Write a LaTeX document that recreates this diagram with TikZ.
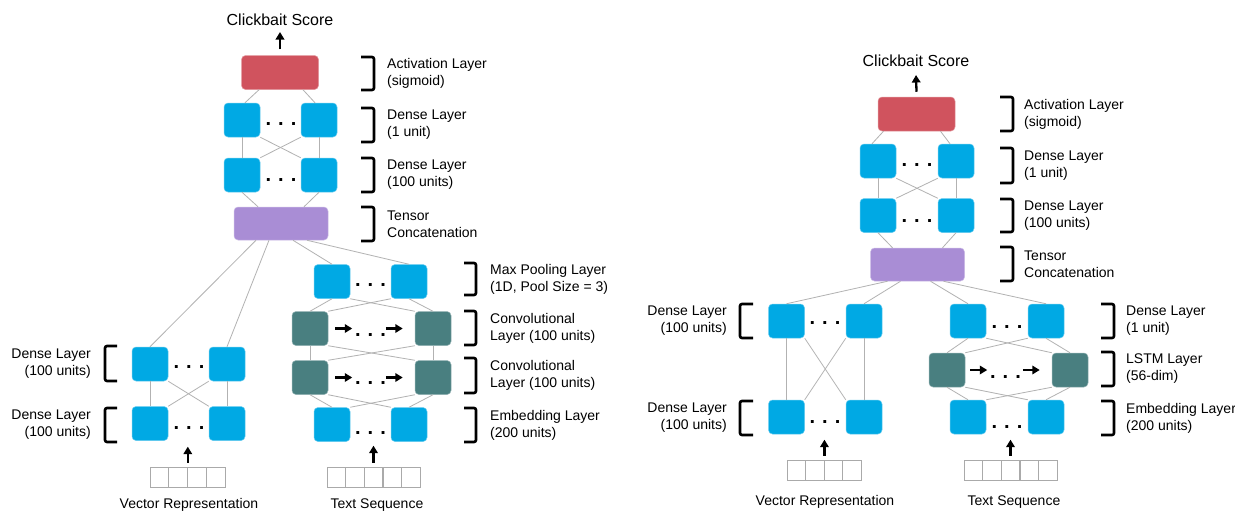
\documentclass[tikz,border=0pt]{standalone}
\usepackage{fontspec}
\setmainfont{Liberation Sans}
\usetikzlibrary{%
  arrows.meta,%
  calc% wg. ($(a)+(b)$)
}

\definecolor{unitblue}{RGB}{0,169,228}
\definecolor{unitteal}{RGB}{73,127,128}
\definecolor{actred}{RGB}{208,83,94}
\definecolor{catpurple}{RGB}{169,141,213}
\definecolor{linkgray}{RGB}{178,178,178}
\definecolor{cellgray}{RGB}{170,170,170}

\newcommand{\labelsize}{\fontsize{14}{17}\selectfont}
\newcommand{\titlesize}{\fontsize{16}{19}\selectfont}
\newcommand{\gapsize}{\fontsize{20}{20}\selectfont\bfseries}
\newcommand{\gapdots}{.\hspace{7pt}.\hspace{7pt}.}

\begin{document}
\begin{tikzpicture}[x=1pt, y=-1pt,
    unit/.style={rectangle, rounded corners=4pt, minimum width=36pt, minimum height=34pt,
      inner sep=0pt, fill=unitblue, draw=unitblue!60!white, line width=0.5pt},
    rnn/.style={unit, fill=unitteal, draw=unitteal!60!white},
    actbox/.style={unit, minimum width=77pt, fill=actred, draw=actred!60!white},
    catbox/.style={unit, minimum width=94pt, minimum height=33pt, fill=catpurple, draw=catpurple!60!white},
    cell/.style={rectangle, minimum width=18.7pt, minimum height=20pt, inner sep=0pt, draw=cellgray, line width=0.7pt},
    link/.style={draw=linkgray, line width=0.8pt},
    tip/.style={-{Triangle[length=7.5pt,width=8.5pt]}, line width=2.3pt},
    brace/.style={line width=2.6pt, rounded corners=2pt},
    layer/.style={font=\labelsize, align=left, anchor=west, inner sep=0pt},
    layerl/.style={font=\labelsize, align=right, anchor=east, inner sep=0pt},
    gap/.style={font=\gapsize, inner sep=0pt},
    title/.style={font=\titlesize, inner sep=0pt, anchor=base},
    caption/.style={font=\labelsize, inner sep=0pt, anchor=base}
  ]
  \useasboundingbox (0,0) rectangle (1235,512);
  \fill[white] (0,0) rectangle (1235,512);

  %%% left model: convolutional text branch
  % draw layers
  \node[title] at (280,25) (sc1) {Clickbait Score};
  \node[actbox] at (280,72.5) (act1) {};
  \node[catbox] at (281,223.5) (cat1) {};
  \foreach \n/\xl/\xr/\y in {den1/242/319/120, den2/242/319/175, vec1/150/227/364,
      vec2/150/227/423.5, pool1/332/409/281.5, emb1/332/409/424.5}{
    \node[unit] at (\xl,\y) (\n l) {};
    \node[unit] at (\xr,\y) (\n r) {};}
  \foreach \n/\y in {conv1/328.5, conv2/377.5}{
    \node[rnn] at (310,\y) (\n l) {};
    \node[rnn] at (433,\y) (\n r) {};}
  \foreach \x/\y [count=\i] in {281/124, 281/180, 189/367, 189/428,
      370.5/285, 370.5/335, 370.5/383, 370.5/433}{
    \node[gap] at (\x,\y) (gap1\i) {\gapdots};}

  % draw inputs
  \foreach \i in {1,...,4}{
    \node[cell] at ({140.6+18.75*\i},477) (vin1\i) {};}
  \foreach \i in {1,...,5}{
    \node[cell] at ({317.7+18.6*\i},477) (tin1\i) {};}
  \node[caption] at (189,508.5) (cap1v) {Vector Representation};
  \node[caption] at (377,508.5) (cap1t) {Text Sequence};

  % draw connections
  \draw[link] ($(act1.south)+(-21,0)$) -- ($(den1l.north)+(3,0)$);
  \draw[link] ($(act1.south)+(23,0)$) -- ($(den1r.north)+(-4,0)$);
  \draw[link] (den2l.south) -- ($(cat1.north)+(-23,0)$);
  \draw[link] (den2r.south) -- ($(cat1.north)+(23,0)$);
  \foreach \dx/\b in {-25/vec1l, -12/vec1r, 12/pool1l, 26/pool1r}{
    \draw[link] ($(cat1.south)+(\dx,0)$) -- (\b.north);}
  \foreach \a/\b in {den1/den2, vec1/vec2, pool1/conv1, conv1/conv2, conv2/emb1}{
    \draw[link] (\a l.south) -- (\b l.north);
    \draw[link] (\a r.south) -- (\b r.north);
    \draw[link] (\a l.south east) -- (\b r.north west);
    \draw[link] (\a r.south west) -- (\b l.north east);}

  % draw arrows
  \draw[tip] ($(act1.north)+(0,-6)$) -- ($(sc1.base)+(0,7)$);
  \foreach \n in {conv1, conv2}{
    \draw[tip] ($(\n l.east)+(7,0)$) -- ++(17,0);
    \draw[tip] ($(\n r.west)+(-29,0)$) -- ++(17,0);}
  \coordinate (vtip1) at ($(vin12.north east)+(0,-20)$);
  \draw[tip] ($(vin12.north east)+(0,-4)$) -- (vtip1);
  \coordinate (ttip1) at ($(tin13.north)+(0,-21)$);
  \draw[tip] ($(tin13.north)+(0,-4)$) -- (ttip1);

  % draw layer names
  \foreach \yt/\yb/\txt [count=\i] in {57/90/{Activation Layer\\(sigmoid)},
      108/142/{Dense Layer\\(1 unit)}, 158/192/{Dense Layer\\(100 units)},
      207/241/{Tensor\\Concatenation}}{
    \draw[brace] (361,\yt) -| (374,\yb) -- (361,\yb);
    \node[layer] at (387,{(\yt+\yb)/2}) (lab1\i) {\txt};}
  \foreach \yt/\yb/\txt [count=\i] in {263/295/{Max Pooling Layer\\(1D, Pool Size = 3)},
      311/345/{Convolutional\\Layer (100 units)}, 358/393/{Convolutional\\Layer (100 units)},
      408/442/{Embedding Layer\\(200 units)}}{
    \draw[brace] (464,\yt) -| (476,\yb) -- (464,\yb);
    \node[layer] at (490,{(\yt+\yb)/2}) (lab2\i) {\txt};}
  \foreach \yt/\yb [count=\i] in {346/381, 408/442}{
    \draw[brace] (117,\yt) -| (105,\yb) -- (117,\yb);
    \node[layerl] at (91,{(\yt+\yb)/2}) (lab3\i) {Dense Layer\\(100 units)};}

  %%% right model: recurrent text branch
  % draw layers
  \node[title] at (916,66) (sc2) {Clickbait Score};
  \node[actbox] at (916.5,114) (act2) {};
  \node[catbox] at (917.5,264.5) (cat2) {};
  \foreach \n/\xl/\xr/\y in {den3/878/956/161, den4/878/956/215.5, vec3/786.5/864/321,
      vec4/786.5/864/417, top2/968/1046/321, emb2/968/1046/417}{
    \node[unit] at (\xl,\y) (\n l) {};
    \node[unit] at (\xr,\y) (\n r) {};}
  \node[rnn] at (947,370) (lstm2l) {};
  \node[rnn] at (1070,370) (lstm2r) {};
  \foreach \x/\y [count=\i] in {917/165, 917/221, 825/323, 825/422,
      1007/327, 1005.5/377, 1007/427}{
    \node[gap] at (\x,\y) (gap2\i) {\gapdots};}

  % draw inputs
  \foreach \i in {1,...,4}{
    \node[cell] at ({777.75+18.5*\i},470) (vin2\i) {};}
  \foreach \i in {1,...,5}{
    \node[cell] at ({954.7+18.6*\i},470) (tin2\i) {};}
  \node[caption] at (825,505) (cap2v) {Vector Representation};
  \node[caption] at (1014,505) (cap2t) {Text Sequence};

  % draw connections
  \draw[link] ($(act2.south)+(-33,0)$) -- ($(den3l.north)+(-6,0)$);
  \draw[link] ($(act2.south)+(24,0)$) -- ($(den3r.north)+(-6,0)$);
  \draw[link] (den4l.south) -- ($(cat2.north)+(-25,0)$);
  \draw[link] (den4r.south) -- ($(cat2.north)+(25,0)$);
  \foreach \dx/\b in {-30/vec3l, -17/vec3r, 13/top2l, 26/top2r}{
    \draw[link] ($(cat2.south)+(\dx,0)$) -- (\b.north);}
  \foreach \a/\b in {den3/den4, vec3/vec4, top2/lstm2, lstm2/emb2}{
    \draw[link] (\a l.south) -- (\b l.north);
    \draw[link] (\a r.south) -- (\b r.north);
    \draw[link] (\a l.south east) -- (\b r.north west);
    \draw[link] (\a r.south west) -- (\b l.north east);}

  % draw arrows
  \draw[tip] ($(act2.north)+(0,-5)$) -- ($(sc2.base)+(0,9)$);
  \draw[tip] ($(lstm2l.east)+(5,0)$) -- ++(17,0);
  \draw[tip] ($(lstm2r.west)+(-29,0)$) -- ++(17,0);
  \coordinate (vtip2) at ($(vin22.north east)+(0,-20)$);
  \draw[tip] ($(vin22.north east)+(0,-4)$) -- (vtip2);
  \coordinate (ttip2) at ($(tin23.north)+(0,-20)$);
  \draw[tip] ($(tin23.north)+(0,-4)$) -- (ttip2);

  % draw layer names
  \foreach \yt/\yb/\txt [count=\i] in {97/131/{Activation Layer\\(sigmoid)},
      148/183/{Dense Layer\\(1 unit)}, 199/232/{Dense Layer\\(100 units)},
      247/281/{Tensor\\Concatenation}}{
    \draw[brace] (1000,\yt) -| (1013,\yb) -- (1000,\yb);
    \node[layer] at (1024,{(\yt+\yb)/2}) (lab4\i) {\txt};}
  \foreach \yt/\yb/\txt [count=\i] in {304/338/{Dense Layer\\(1 unit)},
      352/386/{LSTM Layer\\(56-dim)}, 401/435/{Embedding Layer\\(200 units)}}{
    \draw[brace] (1101,\yt) -| (1114,\yb) -- (1101,\yb);
    \node[layer] at (1126,{(\yt+\yb)/2}) (lab5\i) {\txt};}
  \foreach \yt/\yb [count=\i] in {304/338, 401/435}{
    \draw[brace] (753,\yt) -| (740,\yb) -- (753,\yb);
    \node[layerl] at (727,{(\yt+\yb)/2}) (lab6\i) {Dense Layer\\(100 units)};}
\end{tikzpicture}
\end{document}
